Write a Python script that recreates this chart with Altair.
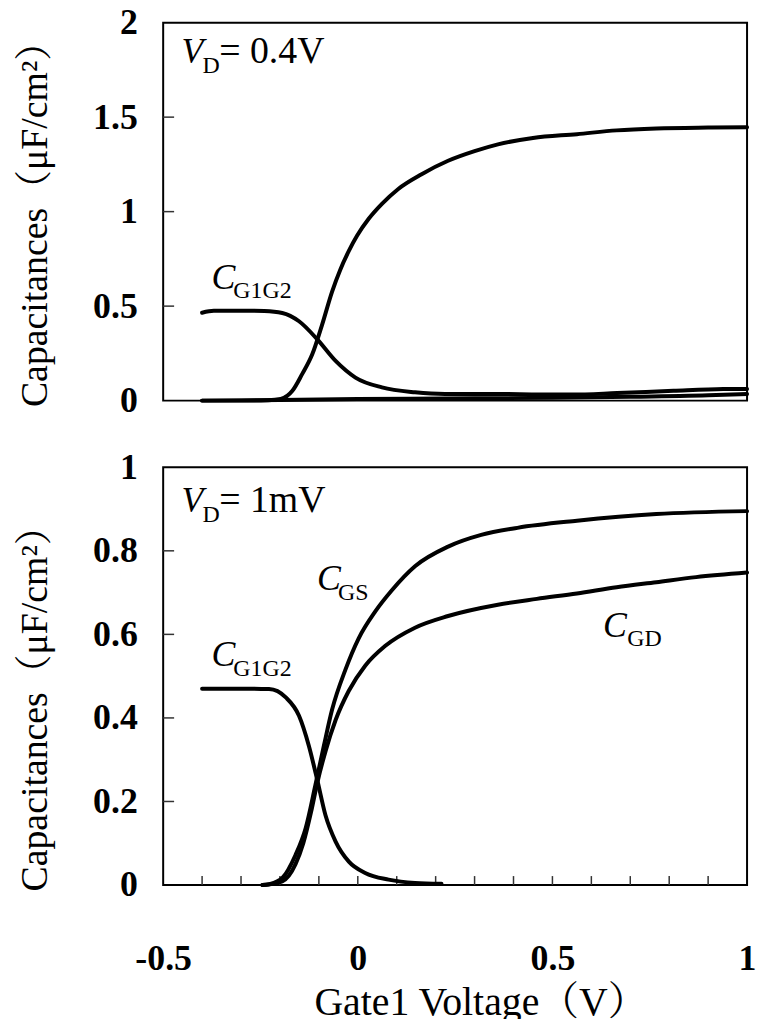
import altair as alt
import pandas as pd

# ---------------- data ----------------
# Top panel, V_D = 0.4 V
top_gs_v = [-0.4, -0.3, -0.23, -0.198, -0.168, -0.143, -0.117, -0.092, -0.066, -0.045, -0.023, -0.002, 0.028, 0.062, 0.104, 0.164, 0.232, 0.30, 0.36, 0.45, 0.563, 0.665, 0.767, 0.9, 1.0]
top_gs_c = [0.0, 0.0, 0.002, 0.009, 0.052, 0.14, 0.245, 0.40, 0.577, 0.693, 0.792, 0.872, 0.962, 1.041, 1.12, 1.198, 1.269, 1.32, 1.356, 1.39, 1.41, 1.43, 1.44, 1.445, 1.447]
top_gg_v = [-0.4, -0.37, -0.3, -0.24, -0.194, -0.151, -0.104, -0.057, -0.006, 0.062, 0.147, 0.224, 0.36, 0.454, 0.55, 0.666, 0.811, 0.939, 1.0]
top_gg_c = [0.465, 0.475, 0.476, 0.474, 0.464, 0.42, 0.324, 0.21, 0.122, 0.07, 0.044, 0.035, 0.035, 0.033, 0.032, 0.04, 0.052, 0.061, 0.062]
top_gd_v = [-0.4, -0.2, 0.0, 0.3, 0.5, 0.7, 0.9, 1.0]
top_gd_c = [0.0, 0.003, 0.008, 0.012, 0.015, 0.02, 0.028, 0.035]

# Bottom panel, V_D = 1 mV
bot_gg_v = [-0.4, -0.3, -0.228, -0.185, -0.151, -0.126, -0.104, -0.083, -0.057, -0.023, 0.019, 0.079, 0.147, 0.215]
bot_gg_c = [0.47, 0.47, 0.469, 0.449, 0.405, 0.334, 0.251, 0.167, 0.104, 0.056, 0.029, 0.013, 0.005, 0.003]
bot_gs_v = [-0.245, -0.228, -0.194, -0.16, -0.134, -0.109, -0.087, -0.066, -0.032, 0.002, 0.045, 0.087, 0.147, 0.232, 0.317, 0.41, 0.563, 0.767, 1.0]
bot_gs_c = [0.0, 0.002, 0.017, 0.072, 0.136, 0.239, 0.334, 0.42, 0.515, 0.59, 0.655, 0.705, 0.763, 0.81, 0.838, 0.855, 0.872, 0.888, 0.895]
bot_gd_v = [-0.245, -0.194, -0.16, -0.14, -0.12, -0.104, -0.083, -0.057, -0.023, 0.019, 0.07, 0.147, 0.232, 0.36, 0.46, 0.563, 0.665, 0.767, 0.869, 1.0]
bot_gd_c = [0.0, 0.009, 0.05, 0.1, 0.175, 0.245, 0.32, 0.395, 0.465, 0.525, 0.572, 0.616, 0.644, 0.671, 0.685, 0.698, 0.713, 0.725, 0.737, 0.748]

# axis ticks / labels
x_label_values = [-0.5, 0.0, 0.5, 1.0]
x_minor_ticks = [-0.4, -0.3, -0.2, -0.1, 0.0, 0.1, 0.2, 0.3, 0.4, 0.5, 0.6, 0.7, 0.8, 0.9]
top_y_labels = [0.0, 0.5, 1.0, 1.5, 2.0]
top_y_ticks = [0.5, 1.0, 1.5]
bot_y_labels = [0.0, 0.2, 0.4, 0.6, 0.8, 1.0]
bot_y_ticks = [0.2, 0.4, 0.6, 0.8]

# annotations (data coordinates)
top_ital_t = ["V", "C"]
top_ital_v = [-0.453, -0.376]
top_ital_c = [1.785, 0.593]
top_sub_t = ["D", "G1G2"]
top_sub_v = [-0.399, -0.32]
top_sub_c = [1.732, 0.541]
top_rest_t = ["= 0.4V"]
top_rest_v = [-0.356]
top_rest_c = [1.785]

bot_ital_t = ["V", "C", "C", "C"]
bot_ital_v = [-0.453, -0.376, -0.105, 0.630]
bot_ital_c = [0.893, 0.524, 0.707, 0.593]
bot_sub_t = ["D", "G1G2", "GS", "GD"]
bot_sub_v = [-0.399, -0.32, -0.051, 0.692]
bot_sub_c = [0.869, 0.5, 0.683, 0.571]
bot_rest_t = ["= 1mV"]
bot_rest_v = [-0.356]
bot_rest_c = [0.893]

Y_TITLE = "Capacitances（μF/cm²）"
X_TITLE = "Gate1 Voltage（V）"

# ---------------- styling ----------------
SERIF = "Liberation Serif, Times New Roman, Noto Serif CJK JP, Noto Sans CJK JP, serif"
W = 587
H_TOP = 380
H_BOT = 420

x_scale = alt.Scale(domain=[-0.5, 1.0], nice=False, zero=False)


def y_axis(values, h):
    return alt.Axis(values=values, labelExpr="toString(datum.value)", labelFont=SERIF,
                    labelFontSize=36, labelFontWeight="bold", labelColor="black",
                    labelPadding=26, ticks=False, tickSize=0, domain=False, grid=False,
                    labelOverlap=False, title=Y_TITLE, titleFont=SERIF, titleFontSize=38,
                    titleFontWeight="normal", titleColor="black", titlePadding=38,
                    titleAnchor="start", titleY=h + 6, titleAlign="left")


x_axis_bottom = alt.Axis(values=x_label_values, labelExpr="toString(datum.value)", labelFont=SERIF,
                         labelFontSize=36, labelFontWeight="bold", labelColor="black",
                         labelPadding=57, labelFlush=False, labelOverlap=False, ticks=False,
                         tickSize=0, domain=False, grid=False, title=X_TITLE, titleFont=SERIF,
                         titleFontSize=40, titleFontWeight="normal", titleColor="black",
                         titlePadding=6, titleX=319)


def make_panel(series, ymax, ylabels, yticks, h, show_x, ann):
    yscale = alt.Scale(domain=[0, ymax], nice=False, zero=True)
    yax = y_axis(ylabels, h)
    xax = x_axis_bottom if show_x else None

    def X(f):
        return alt.X(f + ":Q", scale=x_scale, axis=xax)

    def Y(f):
        return alt.Y(f + ":Q", scale=yscale, axis=yax)

    rows = []
    for name, vs, cs in series:
        for v, c in zip(vs, cs):
            rows.append({"s": name, "v": v, "c": c})
    df = pd.DataFrame(rows)

    lines = alt.Chart(df).mark_line(color="black", strokeWidth=4, interpolate="monotone",
                                    strokeJoin="round", strokeCap="round").encode(
        x=X("v"), y=Y("c"), detail="s:N")

    ytick_layer = alt.Chart(pd.DataFrame({"c": yticks})).mark_rule(color="#333", strokeWidth=1.5).encode(
        y=Y("c"), x=alt.value(0), x2=alt.value(11))

    layers = [ytick_layer]
    if show_x:
        xtick_layer = alt.Chart(pd.DataFrame({"v": x_minor_ticks})).mark_rule(color="#333", strokeWidth=1.5).encode(
            x=X("v"), y=alt.value(h), y2=alt.value(h - 9))
        layers.append(xtick_layer)
    layers.append(lines)

    (it, iv, ic), (st, sv, sc), (rt, rv, rc) = ann
    ital = alt.Chart(pd.DataFrame({"t": it, "v": iv, "c": ic})).mark_text(
        align="left", baseline="alphabetic", font=SERIF, fontSize=36, fontStyle="italic",
        color="black").encode(x=X("v"), y=Y("c"), text="t:N")
    sub = alt.Chart(pd.DataFrame({"t": st, "v": sv, "c": sc})).mark_text(
        align="left", baseline="alphabetic", font=SERIF, fontSize=24,
        color="black").encode(x=X("v"), y=Y("c"), text="t:N")
    rest = alt.Chart(pd.DataFrame({"t": rt, "v": rv, "c": rc})).mark_text(
        align="left", baseline="alphabetic", font=SERIF, fontSize=38,
        color="black").encode(x=X("v"), y=Y("c"), text="t:N")
    layers += [ital, sub, rest]
    return alt.layer(*layers).properties(width=W, height=h)


top = make_panel(
    [("CGS", top_gs_v, top_gs_c), ("CG1G2", top_gg_v, top_gg_c), ("CGD", top_gd_v, top_gd_c)],
    2.0, top_y_labels, top_y_ticks, H_TOP, False,
    ((top_ital_t, top_ital_v, top_ital_c), (top_sub_t, top_sub_v, top_sub_c), (top_rest_t, top_rest_v, top_rest_c)))

bottom = make_panel(
    [("CGS", bot_gs_v, bot_gs_c), ("CG1G2", bot_gg_v, bot_gg_c), ("CGD", bot_gd_v, bot_gd_c)],
    1.0, bot_y_labels, bot_y_ticks, H_BOT, True,
    ((bot_ital_t, bot_ital_v, bot_ital_c), (bot_sub_t, bot_sub_v, bot_sub_c), (bot_rest_t, bot_rest_v, bot_rest_c)))

chart = alt.vconcat(top, bottom, spacing=67, bounds="flush").properties(
    padding={"left": 8, "top": -7, "right": 0, "bottom": 0},
    background="white",
).configure_view(stroke="black", strokeWidth=2)

chart.save("out.html", embed_options={"renderer": "svg", "actions": False})
